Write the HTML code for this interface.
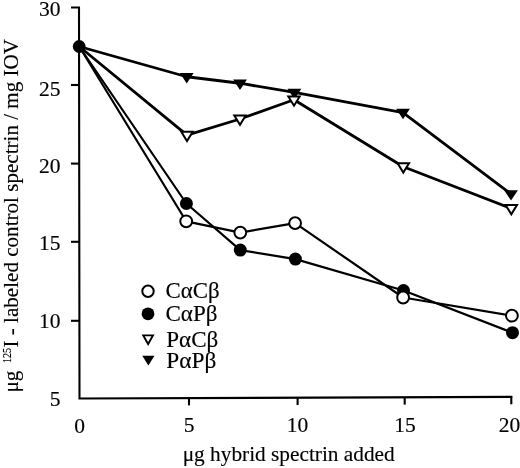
<!DOCTYPE html>
<html><head><meta charset="utf-8"><title>Figure</title>
<style>html,body{margin:0;padding:0;background:#fff}body{width:520px;height:468px;overflow:hidden}text{stroke:#000;stroke-width:.15px}</style></head>
<body>
<svg width="520" height="468" viewBox="0 0 520 468" style="display:block">
<rect width="520" height="468" fill="#fff"/>
<g font-family="'Liberation Serif', serif" fill="#000">
<g stroke="#000" stroke-width="2.1" fill="none" stroke-linecap="butt">
<path d="M71,7.5 H79 L79.5,398.5 L512.2,396.9" stroke-linejoin="miter"/>
<path d="M71,85 H79.2"/>
<path d="M71,163.6 H79.2"/>
<path d="M71,241.8 H79.2"/>
<path d="M71,320.8 H79.2"/>
<path d="M189,398.1 V405.40000000000003"/>
<path d="M297.6,397.7 V405.0"/>
<path d="M404.7,397.3 V404.6"/>
<path d="M511.3,396 V404.3"/>
</g>
<g stroke="#000" fill="none" stroke-linejoin="round">
<polyline stroke-width="2.8" points="79.2,46.5 186.75,76.74 240,83.24 294.4,92.49 403,112.54 511,193.94"/>
<polyline stroke-width="2.8" points="79.2,46.5 187,135.19 240,118.99 294,99.79 403.3,166.69 511.3,208.39"/>
<polyline stroke-width="2.2" points="79.2,46.5 186.4,203.5 240.3,250.1 295.4,259.1 403.5,290.5 512.5,332.7"/>
<polyline stroke-width="2.2" points="79.2,46.5 186.2,221.3 240.3,232.6 295.1,223.1 403.1,297.5 511.9,315.7"/>
</g>
<polygon points="179.85,73.00 193.65,73.00 186.75,83.40" fill="#000"/>
<polygon points="233.10,79.50 246.90,79.50 240.00,89.90" fill="#000"/>
<polygon points="287.50,88.75 301.30,88.75 294.40,99.15" fill="#000"/>
<polygon points="396.10,108.80 409.90,108.80 403.00,119.20" fill="#000"/>
<polygon points="504.10,190.20 517.90,190.20 511.00,200.60" fill="#000"/>
<polygon points="181.29,131.80 192.71,131.80 187.00,141.09" fill="#fff" stroke="#000" stroke-width="2.0" stroke-linejoin="miter" stroke-miterlimit="10"/>
<polygon points="234.29,115.60 245.71,115.60 240.00,124.89" fill="#fff" stroke="#000" stroke-width="2.0" stroke-linejoin="miter" stroke-miterlimit="10"/>
<polygon points="288.29,96.40 299.71,96.40 294.00,105.69" fill="#fff" stroke="#000" stroke-width="2.0" stroke-linejoin="miter" stroke-miterlimit="10"/>
<polygon points="397.59,163.30 409.01,163.30 403.30,172.59" fill="#fff" stroke="#000" stroke-width="2.0" stroke-linejoin="miter" stroke-miterlimit="10"/>
<polygon points="505.59,205.00 517.01,205.00 511.30,214.29" fill="#fff" stroke="#000" stroke-width="2.0" stroke-linejoin="miter" stroke-miterlimit="10"/>
<circle cx="186.4" cy="203.5" r="6.5" fill="#000"/>
<circle cx="240.3" cy="250.1" r="6.5" fill="#000"/>
<circle cx="295.4" cy="259.1" r="6.5" fill="#000"/>
<circle cx="403.5" cy="290.5" r="6.5" fill="#000"/>
<circle cx="512.5" cy="332.7" r="6.5" fill="#000"/>
<circle cx="186.2" cy="221.3" r="5.9" fill="#fff" stroke="#000" stroke-width="2"/>
<circle cx="240.3" cy="232.6" r="5.9" fill="#fff" stroke="#000" stroke-width="2"/>
<circle cx="295.1" cy="223.1" r="5.9" fill="#fff" stroke="#000" stroke-width="2"/>
<circle cx="403.1" cy="297.5" r="5.9" fill="#fff" stroke="#000" stroke-width="2"/>
<circle cx="511.9" cy="315.7" r="5.9" fill="#fff" stroke="#000" stroke-width="2"/>
<circle cx="79.2" cy="46.5" r="6.4" fill="#000"/>
<text x="60.5" y="16.2" font-size="21.5" text-anchor="end">30</text>
<text x="60.5" y="95.7" font-size="21.5" text-anchor="end">25</text>
<text x="60.5" y="172.8" font-size="21.5" text-anchor="end">20</text>
<text x="60.5" y="249.7" font-size="21.5" text-anchor="end">15</text>
<text x="60.5" y="328" font-size="21.5" text-anchor="end">10</text>
<text x="60.5" y="405.5" font-size="21.5" text-anchor="end">5</text>
<text x="79.5" y="432.5" font-size="21.5" text-anchor="middle">0</text>
<text x="189.2" y="432.4" font-size="21.5" text-anchor="middle">5</text>
<text x="297.6" y="432.2" font-size="21.5" text-anchor="middle">10</text>
<text x="404.9" y="432.0" font-size="21.5" text-anchor="middle">15</text>
<text x="509.6" y="431.8" font-size="21.5" text-anchor="middle">20</text>
<text x="182.7" y="461.3" font-size="21.4" textLength="212" lengthAdjust="spacingAndGlyphs">μg hybrid spectrin added</text>
<g transform="translate(18,0) rotate(-90)">
<text x="-392.5" y="0" font-size="21">μg</text>
<text x="-363" y="-7" font-size="11.5" textLength="15" lengthAdjust="spacingAndGlyphs">125</text>
<text x="-347.5" y="0" font-size="21" textLength="308.5" lengthAdjust="spacingAndGlyphs">I - labeled control spectrin / mg IOV</text>
</g>
<circle cx="148" cy="291.2" r="5.7" fill="#fff" stroke="#000" stroke-width="2"/>
<circle cx="148" cy="313.8" r="6.4" fill="#000"/>
<polygon points="143.22,335.35 152.98,335.35 148.10,344.06" fill="#fff" stroke="#000" stroke-width="1.9" stroke-linejoin="miter" stroke-miterlimit="10"/>
<polygon points="142.30,355.70 154.50,355.70 148.40,365.40" fill="#000"/>
<text x="165.5" y="297.8" font-size="22.3" textLength="54" lengthAdjust="spacingAndGlyphs">CαCβ</text>
<text x="165.5" y="321.4" font-size="22.3" textLength="52" lengthAdjust="spacingAndGlyphs">CαPβ</text>
<text x="166.3" y="346.7" font-size="22.3" textLength="52" lengthAdjust="spacingAndGlyphs">PαCβ</text>
<text x="166.3" y="367.5" font-size="22.3" textLength="50" lengthAdjust="spacingAndGlyphs">PαPβ</text>
</g></svg>
</body></html>
